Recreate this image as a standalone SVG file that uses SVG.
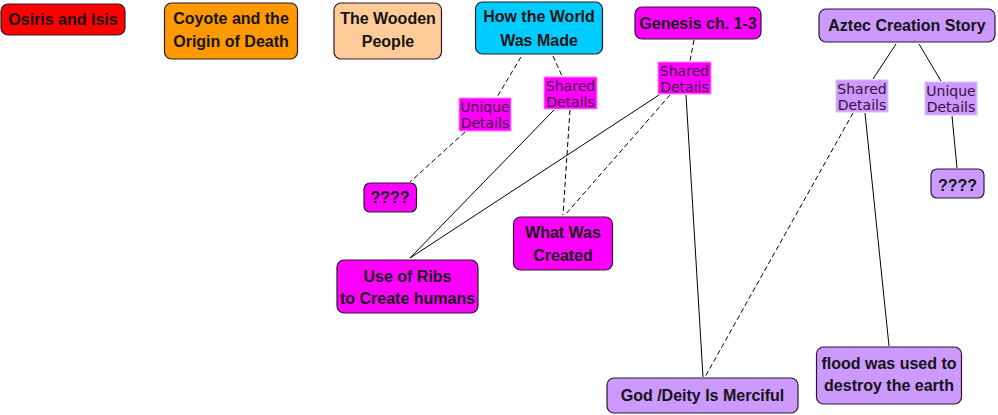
<svg xmlns="http://www.w3.org/2000/svg" width="998" height="415" viewBox="0 0 998 415">
<style>
.n{stroke:#2a1a2a;stroke-width:1.2}
.nt{font-family:"Liberation Sans",Arial,sans-serif;font-weight:bold;font-size:16px;fill:#141414;text-anchor:middle}
.lt{font-family:"DejaVu Sans",sans-serif;font-size:14px;fill:#3a103a;text-anchor:middle}
.lm{fill:#ff00ff;stroke:#ff88ff;stroke-width:1}
.lp{fill:#cc99ff;stroke:#dcc0ff;stroke-width:1}
.c{stroke:#000;stroke-width:1;fill:none}
.d{stroke-dasharray:5,3}
</style>
<rect width="998" height="415" fill="#fff"/>
<g id="connectors">
<line class="c d" x1="521" y1="57" x2="497" y2="97"/>
<line class="c d" x1="465" y1="132" x2="410" y2="182"/>
<line class="c d" x1="553" y1="56" x2="562" y2="76"/>
<line class="c" x1="554" y1="110" x2="410" y2="258"/>
<line class="c d" x1="570" y1="110" x2="563" y2="215"/>
<line class="c d" x1="694" y1="40" x2="690" y2="61"/>
<line class="c" x1="659" y1="95" x2="410" y2="258"/>
<line class="c d" x1="670" y1="95" x2="565" y2="215"/>
<line class="c" x1="686" y1="95" x2="703" y2="377"/>
<line class="c" x1="896" y1="44" x2="873" y2="79"/>
<line class="c" x1="919" y1="44" x2="941" y2="81"/>
<line class="c d" x1="853" y1="113" x2="705" y2="377"/>
<line class="c" x1="865" y1="113" x2="889" y2="346"/>
<line class="c" x1="952" y1="116" x2="957" y2="168"/>
</g>
<g id="osiris"><rect class="n" x="1" y="4" width="124" height="31" rx="7" fill="#ff0000"/><text class="nt" x="63" y="25">Osiris and Isis</text></g>
<g id="coyote"><rect class="n" x="164.5" y="3" width="133" height="56" rx="7" fill="#ff9900"/><text class="nt" x="231" y="24">Coyote and the</text><text class="nt" x="231" y="47">Origin of Death</text></g>
<g id="wooden"><rect class="n" x="334" y="3" width="107.5" height="56" rx="7" fill="#ffcc99"/><text class="nt" x="388" y="24">The Wooden</text><text class="nt" x="388" y="47">People</text></g>
<g id="world"><rect class="n" x="475.5" y="2" width="127" height="52" rx="7" fill="#00ccff"/><text class="nt" x="539" y="22">How the World</text><text class="nt" x="539" y="46">Was Made</text></g>
<g id="genesis"><rect class="n" x="635" y="7" width="126" height="32" rx="7" fill="#ff00ff"/><text class="nt" x="698" y="29">Genesis ch. 1-3</text></g>
<g id="aztec"><rect class="n" x="819" y="9" width="176" height="33" rx="7" fill="#cc99ff"/><text class="nt" x="907" y="31">Aztec Creation Story</text></g>
<g id="unknown1"><rect class="n" x="364" y="183" width="52.5" height="29" rx="6" fill="#ff00ff"/><text class="nt" x="390" y="203">????</text></g>
<g id="ribs"><rect class="n" x="337" y="260" width="141" height="53" rx="7" fill="#ff00ff"/><text class="nt" x="407.5" y="282">Use of Ribs</text><text class="nt" x="407.5" y="304">to Create humans</text></g>
<g id="created"><rect class="n" x="513.5" y="217" width="99" height="53" rx="7" fill="#ff00ff"/><text class="nt" x="563" y="238">What Was</text><text class="nt" x="563" y="261">Created</text></g>
<g id="merciful"><rect class="n" x="607" y="378" width="191" height="35" rx="7" fill="#cc99ff"/><text class="nt" x="702.5" y="401">God /Deity Is Merciful</text></g>
<g id="flood"><rect class="n" x="816.5" y="347" width="145" height="57" rx="7" fill="#cc99ff"/><text class="nt" x="889" y="369">flood was used to</text><text class="nt" x="889" y="391">destroy the earth</text></g>
<g id="unknown2"><rect class="n" x="931" y="169" width="53" height="29" rx="6" fill="#cc99ff"/><text class="nt" x="957.5" y="191">????</text></g>
<g id="label-world-unique"><rect class="lm" x="459" y="98" width="52" height="33"/><text class="lt" x="485" y="112">Unique</text><text class="lt" x="485" y="128">Details</text></g>
<g id="label-world-shared"><rect class="lm" x="544" y="77" width="53" height="32"/><text class="lt" x="570.5" y="91">Shared</text><text class="lt" x="570.5" y="107">Details</text></g>
<g id="label-genesis-shared"><rect class="lm" x="658" y="62" width="53" height="32"/><text class="lt" x="684.5" y="76">Shared</text><text class="lt" x="684.5" y="92">Details</text></g>
<g id="label-aztec-shared"><rect class="lp" x="836" y="80" width="52" height="32"/><text class="lt" x="862" y="94">Shared</text><text class="lt" x="862" y="110">Details</text></g>
<g id="label-aztec-unique"><rect class="lp" x="925" y="82" width="52" height="33"/><text class="lt" x="951" y="96">Unique</text><text class="lt" x="951" y="112">Details</text></g>
</svg>
